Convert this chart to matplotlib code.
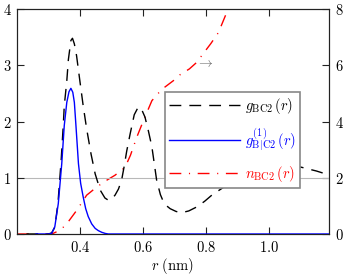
import matplotlib
matplotlib.use("Agg")
import matplotlib.pyplot as plt
from matplotlib.ticker import FixedLocator, FixedFormatter

plt.rcParams['mathtext.fontset'] = 'cm'
plt.rcParams['font.family'] = ['DejaVu Serif']

# g_BC2(r) - black dashed (left axis)
r_g = [0.23, 0.30, 0.31, 0.32, 0.33, 0.34, 0.347, 0.35, 0.358, 0.363, 0.371, 0.376,
       0.382, 0.389, 0.40, 0.41, 0.421, 0.435, 0.448, 0.464, 0.479, 0.49, 0.50,
       0.511, 0.522, 0.532, 0.54, 0.548, 0.559, 0.572, 0.585, 0.595, 0.606, 0.617,
       0.628, 0.643, 0.655, 0.664, 0.675, 0.686, 0.705, 0.723, 0.745, 0.77, 0.795,
       0.818, 0.842, 0.866, 0.90, 0.95, 1.00, 1.05, 1.10, 1.15, 1.19]
g_bc2 = [0.0, 0.0, 0.02, 0.12, 0.55, 1.3, 1.95, 2.28, 2.72, 3.1, 3.44, 3.48,
         3.38, 3.17, 2.7, 2.28, 1.87, 1.42, 1.07, 0.78, 0.64, 0.60, 0.62,
         0.69, 0.80, 0.96, 1.2, 1.47, 1.78, 2.12, 2.26, 2.22, 2.08, 1.83,
         1.55, 0.96, 0.7, 0.58, 0.5, 0.45, 0.40, 0.38, 0.41, 0.48, 0.58,
         0.69, 0.78, 0.87, 1.0, 1.12, 1.2, 1.22, 1.19, 1.12, 1.05]

# g^(1)_B|C2(r) - blue solid (left axis)
r_g1 = [0.26, 0.30, 0.31, 0.32, 0.331, 0.342, 0.35, 0.358, 0.365, 0.371, 0.377,
        0.382, 0.387, 0.395, 0.402, 0.41, 0.418, 0.426, 0.437, 0.448, 0.458,
        0.469, 0.48, 0.49, 1.19]
g1_bc2 = [0.0, 0.0, 0.01, 0.13, 0.54, 1.25, 1.93, 2.34, 2.53, 2.59, 2.52,
          2.34, 1.93, 1.25, 0.9, 0.66, 0.45, 0.31, 0.18, 0.1, 0.06,
          0.03, 0.01, 0.0, 0.0]

# n_BC2(r) - red dash-dot (right axis)
r_n = [0.20, 0.31, 0.326, 0.345, 0.363, 0.39, 0.421, 0.453, 0.48, 0.511, 0.537,
       0.548, 0.56, 0.58, 0.60, 0.628, 0.648, 0.664, 0.696, 0.717, 0.747, 0.77,
       0.786, 0.815, 0.839, 0.863, 0.88, 0.90]
n_bc2 = [0.0, 0.0, 0.08, 0.22, 0.44, 0.85, 1.38, 1.67, 1.88, 2.09, 2.32,
         2.5, 2.8, 3.44, 4.0, 4.74, 5.0, 5.18, 5.45, 5.66, 5.87, 6.1,
         6.34, 6.77, 7.16, 7.81, 8.3, 8.9]

x_ticks = [0.4, 0.6, 0.8, 1.0]
x_labels = ['$0.4$', '$0.6$', '$0.8$', '$1.0$']
yl_ticks = [0, 1, 2, 3, 4]
yl_labels = ['$0$', '$1$', '$2$', '$3$', '$4$']
yr_ticks = [0, 2, 4, 6, 8]
yr_labels = ['$0$', '$2$', '$4$', '$6$', '$8$']

fig = plt.figure(figsize=(3.46, 2.79), dpi=100)
ax = fig.add_axes([17/346, 45/279, 312/346, 225/279])
ax2 = ax.twinx()

ax.set_xlim(0.2, 1.19)
ax.set_ylim(0, 4)
ax2.set_ylim(0, 8)

ax.axhline(1.0, color='#b8b8b8', lw=0.8, zorder=1)

ax.set_zorder(ax2.get_zorder() + 1)
ax.patch.set_visible(False)

l_red, = ax2.plot(r_n, n_bc2, color='red', lw=1.0, dashes=(8.5, 5.5, 0.8, 5.5),
                  label=r'$n_{\mathrm{BC2}}\,(r)$', zorder=2)
l_blk, = ax.plot(r_g, g_bc2, color='black', lw=1.0, dashes=(8.5, 5.8),
                 label=r'$g_{\mathrm{BC2}}\,(r)$', zorder=3)
l_blu, = ax.plot(r_g1, g1_bc2, color='blue', lw=1.0,
                 label=r'$g^{(1)}_{\mathrm{B|C2}}\,(r)$', zorder=4)

ax.text(0.797, 3.04, r'$\rightarrow$', color='#666666', fontsize=10,
        ha='center', va='center')

for a in (ax, ax2):
    for s in a.spines.values():
        s.set_color('#222222')
        s.set_linewidth(0.8)

ax.xaxis.set_major_locator(FixedLocator(x_ticks))
ax.xaxis.set_major_formatter(FixedFormatter(x_labels))
ax.yaxis.set_major_locator(FixedLocator(yl_ticks))
ax.yaxis.set_major_formatter(FixedFormatter(yl_labels))
ax2.yaxis.set_major_locator(FixedLocator(yr_ticks))
ax2.yaxis.set_major_formatter(FixedFormatter(yr_labels))

ax.tick_params(axis='x', direction='in', length=5, width=0.8, color='#222222',
               top=True, labelsize=10.5, pad=4)
ax.tick_params(axis='y', direction='in', length=5, width=0.8, color='#222222',
               labelsize=10.5, pad=4, right=False)
ax2.tick_params(axis='y', direction='in', length=5, width=0.8, color='#222222',
                labelsize=10.5, pad=4)

ax.set_xlabel(r'$r\ (\mathrm{nm})$', fontsize=10.5, labelpad=1)

leg = ax.legend(handles=[l_blk, l_blu, l_red], loc='upper left',
                bbox_to_anchor=(0.474, 0.631), borderaxespad=0, fontsize=10.5,
                handlelength=4.9, handletextpad=0.35, borderpad=0.25,
                labelspacing=0.75, fancybox=False, framealpha=1.0,
                edgecolor='#888888')
leg.get_frame().set_linewidth(1.2)
for txt, ln in zip(leg.get_texts(), [l_blk, l_blu, l_red]):
    txt.set_color(ln.get_color())

fig.savefig('out.png', dpi=100)
